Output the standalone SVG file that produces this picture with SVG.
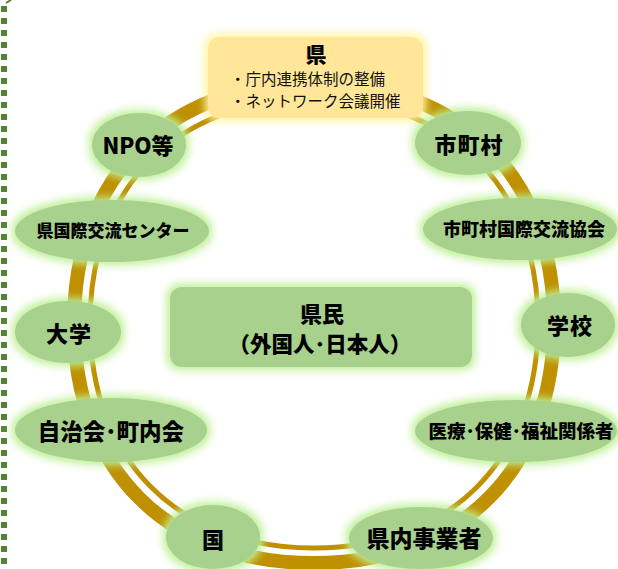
<svg xmlns="http://www.w3.org/2000/svg" width="618" height="569" viewBox="0 0 618 569">
<style>
.n{fill:#a9d18e;filter:url(#glow)}
.y{fill:#ffe699;filter:url(#glowy)}
.t{font-family:"Noto Sans CJK JP","Noto Sans",sans-serif;font-weight:900;fill:#000;text-anchor:middle;dominant-baseline:central}
.s{font-family:"Noto Sans CJK JP","Noto Sans",sans-serif;font-weight:normal;fill:#111;font-size:15.5px}
.ring{fill:none;stroke:#bf9000}
</style>
<defs>
<filter id="glow" x="-30%" y="-50%" width="160%" height="200%">
<feMorphology in="SourceAlpha" operator="dilate" radius="3" result="d"/>
<feGaussianBlur in="d" stdDeviation="4" result="b"/>
<feFlood flood-color="#bdef93"/>
<feComposite in2="b" operator="in" result="g"/>
<feMerge><feMergeNode in="g"/><feMergeNode in="SourceGraphic"/></feMerge>
</filter>
<filter id="glowy" x="-30%" y="-50%" width="160%" height="200%">
<feMorphology in="SourceAlpha" operator="dilate" radius="3" result="d"/>
<feGaussianBlur in="d" stdDeviation="4" result="b"/>
<feFlood flood-color="#fff59a"/>
<feComposite in2="b" operator="in" result="g"/>
<feMerge><feMergeNode in="g"/><feMergeNode in="SourceGraphic"/></feMerge>
</filter>
</defs>
<rect width="618" height="569" fill="#fff"/>
<g id="border">
<line x1="4" y1="6" x2="4" y2="569" stroke="#548235" stroke-width="6" stroke-dasharray="6 6"/>
<path d="M6 3 L11 0" stroke="#548235" stroke-width="2" fill="none"/>
</g>
<g id="connectors">
<path class="ring" stroke-width="14" d="M 554 323 C 554 469.4, 460.4 563, 314 563 C 167.6 563, 74 469.4, 74 323 C 74 176.6, 167.6 83, 314 83 C 460.4 83, 554 176.6, 554 323 Z"/>
<path class="ring" stroke-width="5" d="M 538 323 C 538 459.6, 450.6 548, 314 548 C 177.4 548, 90 459.6, 90 323 C 90 186.4, 177.4 99, 314 99 C 450.6 99, 538 186.4, 538 323 Z"/>
</g>
<g id="ken">
<rect class="y" x="208" y="37" width="215" height="81" rx="12"/>
<text class="t" x="316" y="53" font-size="21">県</text>
<text class="s" x="230" y="85">・庁内連携体制の整備</text>
<text class="s" x="230" y="107">・ネットワーク会議開催</text>
</g>
<g id="npo">
<ellipse class="n" cx="139" cy="145" rx="47" ry="32"/>
<text class="t" x="138" y="144" font-size="22">NPO等</text>
</g>
<g id="shichoson">
<ellipse class="n" cx="468" cy="143" rx="53" ry="32"/>
<text class="t" x="469" y="143" font-size="22" letter-spacing="1">市町村</text>
</g>
<g id="kenkokusai">
<ellipse class="n" cx="112" cy="231" rx="97" ry="31"/>
<text class="t" x="113" y="229" font-size="17">県国際交流センター</text>
</g>
<g id="shichosonkokusai">
<ellipse class="n" cx="520" cy="229" rx="97" ry="31"/>
<text class="t" x="524" y="228" font-size="18">市町村国際交流協会</text>
</g>
<g id="daigaku">
<ellipse class="n" cx="68" cy="332" rx="53" ry="31"/>
<text class="t" x="69" y="332" font-size="22" letter-spacing="1">大学</text>
</g>
<g id="gakko">
<ellipse class="n" cx="568" cy="325" rx="47" ry="32"/>
<text class="t" x="570" y="324" font-size="22" letter-spacing="1">学校</text>
</g>
<g id="kenmin">
<rect class="n" x="170" y="287" width="302" height="80" rx="12"/>
<text class="t" x="322" y="312" font-size="22">県民</text>
<text class="t" x="320" y="342" font-size="21.5">（外国人･日本人）</text>
</g>
<g id="jichikai">
<ellipse class="n" cx="111" cy="430" rx="96" ry="32"/>
<text class="t" x="111" y="430" font-size="22.5">自治会･町内会</text>
</g>
<g id="iryo">
<ellipse class="n" cx="516" cy="431" rx="101" ry="31"/>
<text class="t" x="521" y="430" font-size="18.5">医療･保健･福祉関係者</text>
</g>
<g id="kuni">
<ellipse class="n" cx="213" cy="537" rx="47" ry="32"/>
<text class="t" x="213" y="538" font-size="22">国</text>
</g>
<g id="jigyosha">
<ellipse class="n" cx="421" cy="538" rx="72" ry="31"/>
<text class="t" x="424" y="537" font-size="23">県内事業者</text>
</g>
</svg>
